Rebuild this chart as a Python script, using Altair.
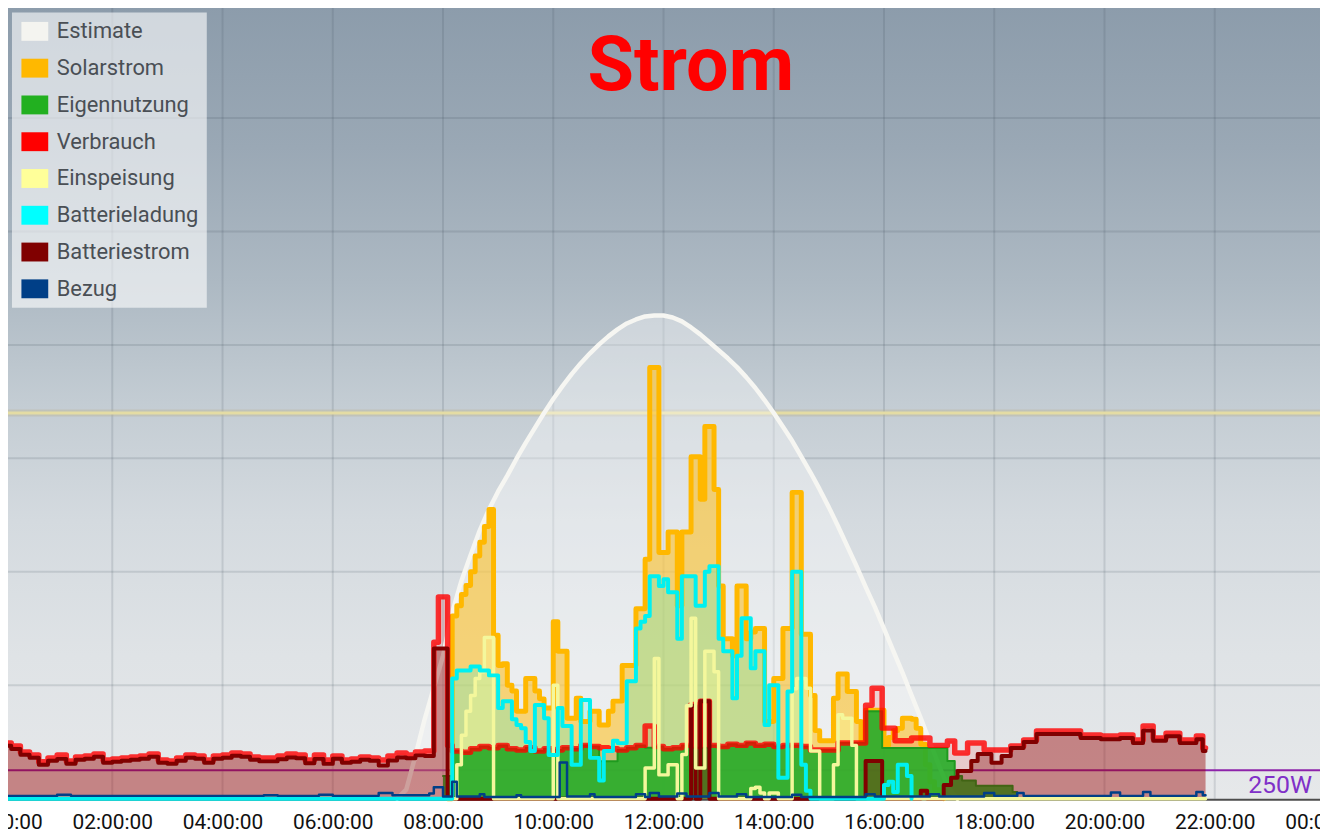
import altair as alt
import pandas as pd

# ---------------- data: minutes since midnight -> watts ----------------
TITLE = "Strom"
SERIES = ["Estimate", "Solarstrom", "Eigennutzung", "Verbrauch",
          "Einspeisung", "Batterieladung", "Batteriestrom", "Bezug"]
COLORS = ["#f4f4f0", "#ffb800", "#22b020", "#ff0000",
          "#ffff99", "#00ffff", "#800000", "#003f87"]

HOUR_TICKS = list(range(0, 25, 2))
GRID_W = [1000, 2000, 3000, 4000, 5000, 6000, 7000]
LIMIT_W = [250]
LIMIT_LABEL = ["250W"]
MAX_LINE_W = [3400]

ESTIMATE_T = list(range(430, 1041, 10))
ESTIMATE_W = [0, 80, 380, 700, 980, 1260, 1640, 1919, 2147, 2366, 2550, 2708,
              2848, 2997, 3137, 3269, 3400, 3523, 3637, 3742, 3839, 3926, 4005,
              4075, 4137, 4189, 4224, 4251, 4259, 4259, 4242, 4207, 4154, 4093,
              4023, 3953, 3882, 3804, 3716, 3620, 3514, 3400, 3278, 3155, 3015,
              2875, 2726, 2568, 2401, 2226, 2051, 1867, 1691, 1499, 1306, 1113,
              911, 710, 500, 289, 96, 0]

SOLAR_VALUES = [1610, 1700, 1800, 1880, 2000, 2140, 2260, 2400, 2550, 1440,
                1175, 1190, 1000, 950, 770, 770, 1060, 1060, 950, 880,
                800, 800, 1560, 1300, 1300, 710, 710, 885, 680, 680,
                770, 770, 650, 650, 770, 860, 860, 1175, 1175, 1175,
                1675, 1675, 2110, 3800, 3800, 2170, 2170, 2350, 2350, 1700,
                2350, 2350, 3015, 3015, 2640, 3280, 3280, 2725, 1875, 1410,
                1410, 1260, 1875, 1875, 1410, 1470, 1500, 1500, 680, 680,
                1060, 1060, 1500, 1500, 2700, 2700, 1450, 1450, 910, 600,
                510, 510, 510, 885, 1100, 1100, 945, 945, 680, 470,
                780, 780, 780, 780, 470, 540, 600, 620, 710, 710,
                700, 620, 480, 300, 150, 80, 40]
SOLAR_T = [485] + list(range(490, 490 + 5 * len(SOLAR_VALUES), 5)) + [490 + 5 * len(SOLAR_VALUES)]
SOLAR_W = [0] + SOLAR_VALUES + [0]

LADUNG_VALUES = [1060, 1130, 1130, 1130, 1165, 1165, 1130, 1130, 1087, 1087,
                 800, 860, 860, 700, 650, 622, 500, 420, 825, 825,
                 710, 385, 385, 800, 640, 640, 300, 300, 870, 870,
                 360, 360, 160, 420, 420, 510, 490, 490, 1035, 1035,
                 1500, 1560, 1610, 1960, 1960, 1875, 1935, 1820, 1820, 1410,
                 1960, 1960, 1960, 1700, 1700, 2000, 2050, 2050, 1410, 1300,
                 1300, 885, 1260, 1590, 1590, 1150, 1300, 1300, 650, 1000,
                 1000, 185, 185, 945, 2000, 2000, 300, 70, 0, 0,
                 0, 0, 0, 0, 0, 0, 0, 0, 0, 0,
                 0, 0, 0, 0, 120, 150, 60, 300, 300, 200,
                 0]
LADUNG_T = [0] + list(range(490, 490 + 5 * len(LADUNG_VALUES), 5))
LADUNG_W = [0] + LADUNG_VALUES

VERBRAUCH_T = list(range(0, 461, 10)) + [
    470, 475, 485, 490, 500, 510, 520, 530, 540, 550, 560, 570, 580, 590, 600,
    610, 620, 630, 640, 650, 660, 670, 680, 690, 700, 710, 720, 730, 740, 750,
    755, 760, 770, 780, 790, 800, 810, 820, 830, 840, 850, 860, 870, 880, 890,
    900, 910, 940, 947, 958, 972, 990, 1010, 1029, 1037, 1051, 1069, 1098, 1112,
    1126, 1174, 1196, 1217, 1231, 1242, 1253, 1267, 1282, 1300, 1307, 1310]
VERBRAUCH_W = [491, 464, 412, 386, 325, 359, 386, 333, 368, 377, 394, 342, 351,
               359, 368, 377, 394, 342, 333, 359, 386, 377, 342, 377, 386, 403,
               394, 368, 359, 359, 377, 394, 386, 342, 386, 342, 377, 342, 351,
               368, 359, 342, 377, 403, 386, 412, 421] + [
    1380, 1779, 470, 420, 410, 440, 460, 450, 470, 440, 430, 450, 420, 440, 430,
    450, 440, 470, 460, 450, 440, 430, 450, 470, 640, 460, 440, 450, 470, 830,
    460, 860, 470, 460, 480, 470, 490, 470, 480, 460, 470, 470, 460, 430, 430,
    430, 491, 824, 973, 622, 510, 535, 470, 508, 403, 491, 429, 464, 517,
    596, 561, 552, 561, 517, 640, 535, 578, 517, 552, 447, 447]

BATTERIE_T = list(range(0, 461, 10)) + [
    470, 485, 750, 755, 760, 770, 940, 958, 1000, 1007, 1025, 1033, 1040, 1055,
    1062, 1077, 1088, 1098, 1112, 1126, 1174, 1196, 1217, 1231, 1242, 1253, 1267,
    1282, 1300, 1307, 1310]
BATTERIE_W = [466, 439, 387, 361, 300, 334, 351, 308, 343, 352, 369, 317, 326,
              334, 343, 352, 369, 317, 308, 334, 361, 352, 317, 352, 361, 378,
              369, 343, 329, 329, 347, 364, 356, 312, 351, 307, 352, 317, 326,
              343, 334, 292, 337, 363, 356, 382, 376] + [
    1323, 0, 820, 0, 860, 0, 333, 0, 70, 0, 120, 184, 245, 333,
    394, 316, 377, 447, 500, 570, 535, 525, 535, 490, 600, 510, 550,
    490, 525, 420, 420]

EIGEN_T = [480, 490, 500, 510, 520, 530, 540, 550, 560, 570, 580, 590, 600, 610,
           620, 630, 640, 650, 660, 670, 680, 690, 700, 710, 720, 730, 740, 750,
           770, 780, 790, 800, 810, 820, 830, 840, 850, 860, 870, 880, 890, 900,
           910, 940, 958, 1029, 1037, 1045, 1060, 1100, 1105, 1310]
EIGEN_W = [200, 420, 410, 440, 460, 450, 470, 440, 430, 450, 420, 440, 430, 450,
           440, 470, 460, 330, 330, 430, 450, 470, 450, 460, 440, 450, 470, 450,
           470, 460, 480, 470, 490, 470, 480, 460, 470, 470, 460, 430, 430, 430,
           491, 771, 447, 333, 200, 160, 114, 60, 0, 0]

EINSPEISUNG_T = [485, 495, 500, 505, 510, 515, 520, 525, 535, 600, 605, 700, 710,
                 715, 725, 735, 740, 745, 750, 755, 765, 775, 780, 815, 820, 825,
                 830, 835, 845, 860, 865, 875, 880, 890, 905, 910, 915, 925, 930, 1310]
EINSPEISUNG_W = [0, 300, 560, 770, 910, 1060, 1120, 1420, 0, 1000, 0, 270, 1235,
                 210, 300, 0, 390, 820, 1590, 270, 1300, 1120, 0, 90, 100, 50,
                 0, 50, 0, 970, 1060, 973, 421, 0, 300, 740, 710, 470, 0, 0]

BEZUG_T = [0, 60, 75, 285, 300, 345, 360, 410, 425, 465, 470, 480, 490, 495, 520,
           525, 560, 565, 607, 615, 640, 645, 690, 700, 705, 715, 735, 745, 770,
           780, 800, 810, 860, 870, 940, 950, 1010, 1020, 1069, 1080, 1105, 1112,
           1207, 1217, 1242, 1250, 1300, 1307, 1310]
BEZUG_W = [25, 35, 25, 30, 25, 35, 25, 50, 30, 45, 100, 20, 150, 20, 40,
           15, 30, 15, 320, 20, 40, 15, 40, 15, 50, 20, 45, 20, 50,
           20, 40, 15, 35, 15, 40, 20, 40, 20, 50, 25, 50, 25,
           55, 25, 60, 25, 60, 30, 30]

# ---------------- layout ----------------
W, H = 1331, 799


def frame(t, w):
    return pd.DataFrame({"h": [m / 60 for m in t], "w": w})


XAXIS = alt.Axis(values=HOUR_TICKS,
                 labelExpr="(datum.value % 24 < 10 ? '0' : '') + (datum.value % 24) + ':00:00'",
                 grid=False, ticks=False, labelFont="Roboto", labelFontSize=21,
                 labelColor="#111111", labelPadding=13, labelFlush=False,
                 labelOverlap=False, domainColor="#4d4d4d", domainWidth=3, title=None)
XS = alt.Scale(domain=[0, 24], nice=False, zero=False)
YS = alt.Scale(domain=[0, 7000], nice=False, zero=True)
X = alt.X("h:Q", scale=XS, axis=XAXIS)
Y = alt.Y("w:Q", scale=YS, axis=None)


def area(df, color, opacity, interp="step-after"):
    return alt.Chart(df).mark_area(interpolate=interp, color=color, opacity=opacity).encode(x=X, y=Y)


def line(df, color, width, opacity=1.0, interp="step-after"):
    return alt.Chart(df).mark_line(interpolate=interp, color=color, strokeWidth=width,
                                   opacity=opacity, strokeJoin="round",
                                   strokeCap="round").encode(x=X, y=Y)


est = frame(ESTIMATE_T, ESTIMATE_W)
sol = frame(SOLAR_T, SOLAR_W)
lad = frame(LADUNG_T, LADUNG_W)
ver = frame(VERBRAUCH_T, VERBRAUCH_W)
bat = frame(BATTERIE_T, BATTERIE_W)
eig = frame(EIGEN_T, EIGEN_W)
ein = frame(EINSPEISUNG_T, EINSPEISUNG_W)
bez = frame(BEZUG_T, BEZUG_W)

background = alt.Chart(pd.DataFrame({"k": [0]})).mark_rect(
    color=alt.Gradient(gradient="linear", x1=0, x2=0, y1=0, y2=1, stops=[
        alt.GradientStop(color="#8c9cab", offset=0),
        alt.GradientStop(color="#9aa8b5", offset=0.18),
        alt.GradientStop(color="#adb9c3", offset=0.35),
        alt.GradientStop(color="#c3ccd3", offset=0.5),
        alt.GradientStop(color="#d4dadf", offset=0.65),
        alt.GradientStop(color="#dfe3e6", offset=0.82),
        alt.GradientStop(color="#e6e8ea", offset=1)])
).encode(x=alt.value(0), x2=alt.value(W), y=alt.value(0), y2=alt.value(H))

hgrid = alt.Chart(pd.DataFrame({"w": GRID_W})).mark_rule(
    color="#3c4b5a", opacity=0.15, strokeWidth=2).encode(y=Y)
vgrid = alt.Chart(pd.DataFrame({"h": HOUR_TICKS[1:-1]})).mark_rule(
    color="#3c4b5a", opacity=0.15, strokeWidth=2).encode(x=X)
maxglow = alt.Chart(pd.DataFrame({"w": MAX_LINE_W})).mark_rule(
    color="#b8b08a", strokeWidth=7, opacity=0.35).encode(y=Y)
maxline = alt.Chart(pd.DataFrame({"w": MAX_LINE_W})).mark_rule(
    color="#e4dca4", strokeWidth=3).encode(y=Y)
limit_df = pd.DataFrame({"w": LIMIT_W, "label": LIMIT_LABEL})
limitline = alt.Chart(limit_df).mark_rule(color="#8e24aa", strokeWidth=2).encode(y=Y)
limittext = alt.Chart(limit_df).mark_text(
    align="right", baseline="alphabetic", dx=-13, dy=23, fontSize=25,
    font="Roboto", color="#8030c8").encode(x=alt.datum(24), y=Y, text="label:N")

title_text = alt.Chart(pd.DataFrame({"t": [TITLE]})).mark_text(
    align="center", baseline="alphabetic", fontSize=76, fontWeight="bold",
    font="Roboto", color="#ff0000").encode(
    x=alt.value(693), y=alt.value(86), text="t:N")

SYM = "M-1,-1H1.84V1H-1Z"
legend_df = pd.DataFrame({"series": SERIES, "h": [12] * len(SERIES), "w": [-9000] * len(SERIES)})
legend_layer = alt.Chart(legend_df).mark_point(
    shape=SYM, filled=True, size=361, opacity=1, clip=True).encode(
    x=X, y=Y,
    color=alt.Color("series:N", scale=alt.Scale(domain=SERIES, range=COLORS),
                    legend=alt.Legend(title=None, orient="none", legendX=10, legendY=8,
                                      fillColor="rgba(255,255,255,0.6)", padding=8,
                                      labelFont="Roboto", labelFontSize=22,
                                      labelColor="#4a4f55", symbolType=SYM,
                                      symbolSize=361, symbolStrokeWidth=0,
                                      symbolOpacity=1, labelOffset=15, rowPadding=15)))

layers = [
    background, hgrid, vgrid, maxglow, maxline, limitline,
    area(est, "#ffffff", 0.35, "linear"),
    area(sol, "#ffb800", 0.5),
    area(lad, "#00ffff", 0.2),
    area(ein, "#ffff99", 0.35),
    area(ver, "#ff0000", 0.12),
    line(est, "#f6f6f2", 4.5, 1.0, "linear"),
    line(sol, "#ffb800", 5),
    area(eig, "#2aad2a", 0.92),
    line(eig, "#1f9a1f", 2),
    area(bat, "#800000", 0.35),
    line(ver, "#ff0000", 5.5, 0.8),
    line(bat, "#800000", 4),
    line(ein, "#f4f79c", 3.5),
    line(lad, "#00f0f0", 4),
    line(bez, "#003f87", 2.5),
    legend_layer,
    limittext,
    title_text,
]

chart = alt.layer(*layers).properties(
    width=W, height=H,
    autosize=alt.AutoSizeParams(type="none"),
    padding={"left": -6, "top": -6, "right": -5, "bottom": 36},
).configure_view(stroke="transparent")

chart.save("out.html", embed_options={"renderer": "svg", "actions": False})
